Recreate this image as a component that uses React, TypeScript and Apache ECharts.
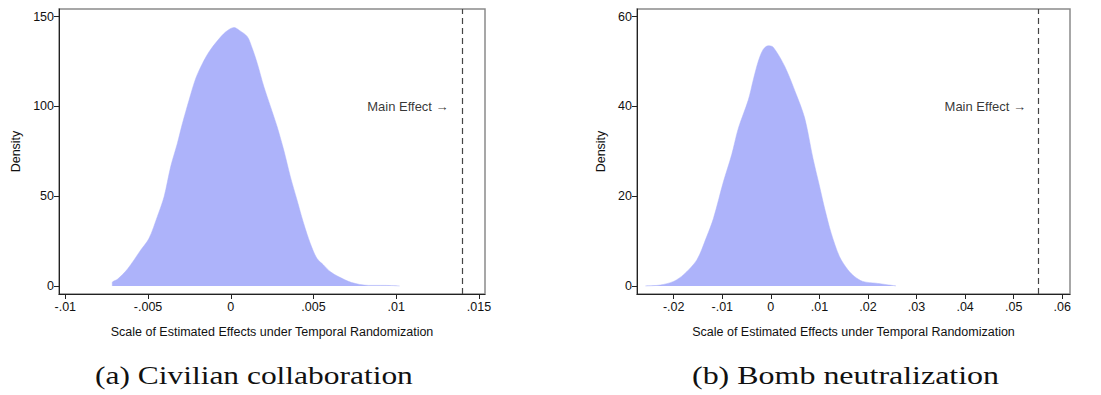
import React, { useEffect, useRef } from "react";
import * as echarts from "echarts";

// Panel (a) Civilian collaboration: density curve [x, density]
const civX = [-0.00716, -0.00716, -0.00685, -0.00625, -0.00544, -0.00494, -0.00444, -0.00403, -0.00363, -0.00323, -0.00292, -0.00252, -0.00212, -0.00171, -0.00131, -0.00081, -0.0003, 0.0002, 0.0005, 0.001, 0.0013, 0.0016, 0.002, 0.0024, 0.0028, 0.0032, 0.0036, 0.004, 0.0044, 0.0048, 0.0052, 0.0056, 0.006, 0.0065, 0.0073, 0.0083, 0.0093, 0.0102];
const civY = [0, 1.9, 3.7, 9.3, 20, 26.5, 38.6, 49.7, 66.5, 79.4, 90.6, 103.6, 115.6, 124, 130.5, 136.6, 141.6, 144, 142.5, 138.9, 132.3, 124, 111, 99.9, 88.7, 75.7, 60.9, 47.9, 34.9, 23.8, 15.4, 11.7, 8, 5.2, 1.9, 0.3, 0.3, 0];
const civTicksX = [-0.01, -0.005, 0, 0.005, 0.01, 0.015];
const civTicksY = [0, 50, 100, 150];
const civMainEffect = 0.014;

// Panel (b) Bomb neutralization
const bombX = [-0.02584, -0.02276, -0.02003, -0.01798, -0.01524, -0.0132, -0.01183, -0.00977, -0.00807, -0.0067, -0.00465, -0.00362, -0.0026, -0.00157, -0.00055, 0.00048, 0.00287, 0.00526, 0.00697, 0.00868, 0.01005, 0.01107, 0.01244, 0.01415, 0.01586, 0.01722, 0.01893, 0.02167, 0.02577];
const bombY = [0, 0.2, 1, 2.5, 5.8, 11, 15, 23.2, 29.2, 35.1, 41.4, 45.9, 50, 52.7, 53.5, 53.2, 48.9, 42.6, 37.4, 28.4, 22.1, 17.3, 11.7, 6.5, 3.6, 2.1, 1, 0.6, 0];
const bombTicksX = [-0.02, -0.01, 0, 0.01, 0.02, 0.03, 0.04, 0.05, 0.06];
const bombTicksY = [0, 20, 40, 60];
const bombMainEffect = 0.055;

const xTitle = "Scale of Estimated Effects under Temporal Randomization";
const yTitle = "Density";
const mainLabel = "Main Effect \u2192";
const captions = ["(a) Civilian collaboration", "(b) Bomb neutralization"];

const FONT = "Liberation Sans";
const FILL = "#adb3fa";
const FS = 12.5;

function fmt(v: number): string {
  if (Math.abs(v) < 1e-12) return "0";
  const s = String(parseFloat(v.toPrecision(6)));
  return s.replace(/^(-?)0\./, "$1.");
}

export default function App() {
  const ref = useRef<HTMLDivElement>(null);
  useEffect(() => {
    if (!ref.current) return;
    const chart = echarts.init(ref.current, null, { renderer: "svg" });

    const grids = [
      { left: 59, top: 9, width: 426, height: 285 },
      { left: 637, top: 9, width: 433, height: 285 },
    ];
    const xr = [
      [-0.01038, 0.01536],
      [-0.02756, 0.0616],
    ];
    const yr = [
      [-4.5, 154.3],
      [-1.8, 61.7],
    ];
    const xt = [civTicksX, bombTicksX];
    const yt = [civTicksY, bombTicksY];

    const xAxis = [0, 1].map((i) => ({
      type: "value",
      gridIndex: i,
      min: xr[i][0],
      max: xr[i][1],
      splitLine: { show: false },
      axisLine: { show: true, onZero: false, lineStyle: { color: "#222", width: 1 } },
      axisTick: { show: true, length: 5, customValues: xt[i], lineStyle: { color: "#222" } },
      axisLabel: {
        customValues: xt[i],
        formatter: (v: number) => fmt(v),
        color: "#111",
        fontFamily: FONT,
        fontSize: FS,
        margin: 6,
        showMinLabel: true,
        showMaxLabel: true,
      },
      name: xTitle,
      nameLocation: "middle",
      nameGap: 31,
      nameTextStyle: { color: "#111", fontFamily: FONT, fontSize: FS },
    }));

    const yAxis = [0, 1].map((i) => ({
      type: "value",
      gridIndex: i,
      min: yr[i][0],
      max: yr[i][1],
      splitLine: { show: false },
      axisLine: { show: true, onZero: false, lineStyle: { color: "#222", width: 1 } },
      axisTick: { show: true, length: 5, customValues: yt[i], lineStyle: { color: "#222" } },
      axisLabel: {
        customValues: yt[i],
        color: "#111",
        fontFamily: FONT,
        fontSize: FS,
        margin: 5,
        showMinLabel: true,
        showMaxLabel: true,
      },
      name: yTitle,
      nameLocation: "middle",
      nameGap: i === 0 ? 37 : 30,
      nameTextStyle: { color: "#111", fontFamily: FONT, fontSize: FS },
    }));

    const curves = [
      civX.map((x, k) => [x, civY[k]]),
      bombX.map((x, k) => [x, bombY[k]]),
    ];
    const mains = [civMainEffect, bombMainEffect];
    const labelPos = [
      [0.01316, 100],
      [0.05253, 40],
    ];

    const series: any[] = [];
    [0, 1].forEach((i) => {
      series.push({
        type: "line",
        xAxisIndex: i,
        yAxisIndex: i,
        data: curves[i],
        smooth: 0.3,
        showSymbol: false,
        symbol: "none",
        lineStyle: { width: 0.5, color: FILL },
        areaStyle: { color: FILL, opacity: 1, origin: 0 },
        markLine: {
          silent: true,
          symbol: "none",
          precision: 5,
          label: { show: false },
          lineStyle: { color: "#444", type: [6, 4], width: 1.2 },
          data: [{ xAxis: mains[i] }],
        },
      });
      series.push({
        type: "scatter",
        xAxisIndex: i,
        yAxisIndex: i,
        data: [labelPos[i]],
        symbolSize: 0,
        label: {
          show: true,
          position: "left",
          distance: 0,
          formatter: mainLabel,
          color: "#000",
          fontFamily: FONT,
          fontSize: 13,
        },
      });
    });

    chart.setOption({
      animation: false,
      backgroundColor: "#fff",
      grid: grids.map((g) => ({ ...g, show: true, borderColor: "#8a8a8a", borderWidth: 1.5, backgroundColor: "transparent" })),
      xAxis,
      yAxis,
      series,
      graphic: [
        {
          type: "text",
          x: 95,
          y: 362,
          scaleX: 1.21,
          style: { text: captions[0], fontFamily: "Liberation Serif", fontSize: 26, fill: "#111" },
        },
        {
          type: "text",
          x: 692,
          y: 362,
          scaleX: 1.23,
          style: { text: captions[1], fontFamily: "Liberation Serif", fontSize: 26, fill: "#111" },
        },
      ],
    });
    return () => chart.dispose();
  }, []);
  return <div ref={ref} style={{ width: 1101, height: 395, position: "absolute", left: 0, top: 0 }} />;
}
